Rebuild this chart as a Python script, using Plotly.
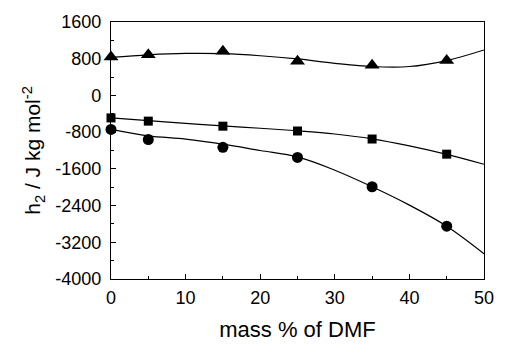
import plotly.graph_objects as go

# measured points
x_pts = [0, 5, 15, 25, 35, 45]
tri_vals = [840, 885, 965, 745, 660, 760]
sq_vals = [-490, -560, -670, -775, -950, -1280]
circ_vals = [-740, -960, -1130, -1350, -1990, -2850]

# fitted curves
x_fit = [0, 5, 10, 15, 20, 25, 30, 35, 40, 45, 50]
tri_fit = [830, 885, 915, 910, 865, 795, 700, 630, 630, 760, 990]
sq_fit = [-490, -550, -610, -665, -715, -770, -840, -945, -1100, -1285, -1500]
circ_fit = [-740, -880, -950, -1060, -1200, -1340, -1630, -1990, -2390, -2850, -3450]

y_ticks = [1600, 800, 0, -800, -1600, -2400, -3200, -4000]
y_tick_text = ["1600", "800", "0", "-800", "-1600", "-2400", "-3200", "-4000"]
x_ticks = [0, 10, 20, 30, 40, 50]

fig = go.Figure()
line = dict(color="black", width=1.2, shape="spline")
for yf in (tri_fit, sq_fit, circ_fit):
    fig.add_trace(go.Scatter(x=x_fit, y=yf, mode="lines", line=line,
                             showlegend=False, hoverinfo="skip"))
for yv, sym, sz in ((tri_vals, "triangle-up", 13), (sq_vals, "square", 9),
                    (circ_vals, "circle", 11)):
    fig.add_trace(go.Scatter(x=x_pts, y=yv, mode="markers",
                             marker=dict(symbol=sym, size=sz, color="black"),
                             showlegend=False, cliponaxis=False))

fam = "Liberation Sans, Arial, sans-serif"
tick_font = dict(family=fam, size=18, color="black")
title_font = dict(family=fam, size=21, color="black")
fig.update_layout(
    width=506, height=349,
    margin=dict(l=111, r=13, t=21, b=63),
    paper_bgcolor="white", plot_bgcolor="white",
    font=tick_font,
    xaxis=dict(range=[0, 50], tickvals=x_ticks, ticks="inside", ticklen=5,
               tickcolor="black", showline=True, linecolor="black", linewidth=1.2,
               mirror=True, showgrid=False, zeroline=False, tickfont=tick_font,
               ticklabelstandoff=2,
               minor=dict(dtick=5, ticks="inside", ticklen=3, tickcolor="black"),
               title=dict(text="mass % of DMF", standoff=14, font=dict(family=fam, size=22, color="black"))),
    yaxis=dict(range=[-4000, 1600], tickvals=y_ticks, ticktext=y_tick_text,
               ticks="inside", ticklen=5, tickcolor="black", showline=True,
               linecolor="black", linewidth=1.2, ticklabelstandoff=5,
               mirror=True, showgrid=False, zeroline=False, tickfont=tick_font,
               minor=dict(dtick=400, ticks="inside", ticklen=3, tickcolor="black"),
               title=dict(text="h<sub>2</sub> / J kg mol<sup>-2</sup>", standoff=8,
                          font=title_font)),
)
fig.write_html("out.html", config={"displayModeBar": False},
               post_script="document.body.style.margin='0';")
